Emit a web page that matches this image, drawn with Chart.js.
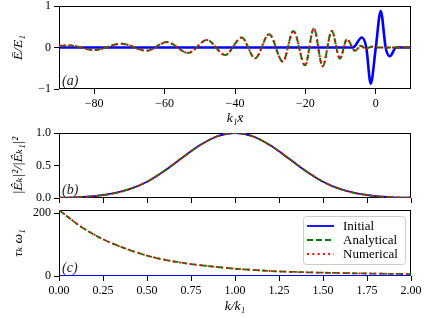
<!DOCTYPE html>
<html><head><meta charset="utf-8">
<script src="https://cdn.jsdelivr.net/npm/chart.js@4.4.0/dist/chart.umd.min.js"></script>
<style>
html,body{margin:0;padding:0;background:#fff;}
#wrap{position:relative;width:425px;height:318px;overflow:hidden;background:#fff;}
canvas{position:absolute;left:0;}
</style></head><body>
<div id="wrap">
<canvas id="ca" width="425" height="127" style="top:0px"></canvas>
<canvas id="cb" width="425" height="78" style="top:127px"></canvas>
<canvas id="cc" width="425" height="113" style="top:205px"></canvas>
</div>
<script>
// ---------- data ----------
// Panel (a): field vs k1*x
const xInitA = [-90, -6.5, -4.0, -2.7, -1.45, 0, 1.4, 2.8, 4.0, 5.8, 10];
const yInitA = [0, 0, 0.24, 0, -0.87, 0, 0.88, 0, -0.21, 0, 0];
const xWaveA = [-90, -87, -80, -72.2, -65.1, -59.4, -53.3, -48.0, -42.8, -38.1, -34.3, -30.3, -26.4, -23.4, -20.1, -17.6, -15.1, -12.5, -10.2, -8.2, -5.9, -4.3, -2.8, -1.2, 0.5, 10];
const yAnalA = [0.04, 0.05, -0.06, 0.09, -0.08, 0.13, -0.13, 0.18, -0.18, 0.24, -0.26, 0.32, -0.34, 0.40, -0.43, 0.46, -0.45, 0.40, -0.27, 0.20, -0.08, 0.04, -0.03, 0.02, 0, 0];
const yNumA  = [0.04, 0.05, -0.06, 0.09, -0.08, 0.13, -0.13, 0.18, -0.18, 0.24, -0.26, 0.32, -0.34, 0.40, -0.43, 0.46, -0.45, 0.40, -0.27, 0.20, -0.08, 0.04, -0.03, 0.02, 0, 0];
// Panel (b): normalized spectrum vs k/k1
const kB = [0, 0.1, 0.2, 0.3, 0.4, 0.5, 0.6, 0.7, 0.8, 0.9, 1.0, 1.1, 1.2, 1.3, 1.4, 1.5, 1.6, 1.7, 1.8, 1.9, 2.0];
const specInit = [0.004, 0.011, 0.028, 0.066, 0.135, 0.25, 0.42, 0.62, 0.81, 0.95, 1.0, 0.95, 0.81, 0.62, 0.42, 0.25, 0.135, 0.066, 0.028, 0.011, 0.004];
const specAnal = [0.004, 0.011, 0.028, 0.066, 0.135, 0.25, 0.42, 0.62, 0.81, 0.95, 1.0, 0.95, 0.81, 0.62, 0.42, 0.25, 0.135, 0.066, 0.028, 0.011, 0.004];
const specNum  = [0.004, 0.011, 0.028, 0.066, 0.135, 0.25, 0.42, 0.62, 0.81, 0.95, 1.0, 0.95, 0.81, 0.62, 0.42, 0.25, 0.135, 0.066, 0.028, 0.011, 0.004];
// Panel (c): tau_k * omega_1 vs k/k1
const kC = [0, 0.125, 0.25, 0.375, 0.5, 0.625, 0.75, 0.875, 1.0, 1.125, 1.25, 1.375, 1.5, 1.625, 1.75, 1.875, 2.0];
const tauInit = [0, 0, 0, 0, 0, 0, 0, 0, 0, 0, 0, 0, 0, 0, 0, 0, 0];
const tauAnal = [210, 157, 117, 88, 65, 49, 38, 30, 23, 18.5, 14.5, 12.3, 10.5, 9.1, 8.0, 6.9, 6.0];
const tauNum  = [210, 157, 117, 88, 65, 49, 38, 30, 23, 18.5, 14.5, 12.3, 10.5, 9.1, 8.0, 6.9, 6.0];
// tick labels
const ticksXA = [-80, -60, -40, -20, 0];
const ticksYA = [-1, 0, 1];
const ticksYB = [0, 0.5, 1.0];
const ticksK  = [0, 0.25, 0.5, 0.75, 1.0, 1.25, 1.5, 1.75, 2.0];
const ticksYC = [0, 200];
const seriesNames = ['Initial', 'Analytical', 'Numerical'];

// ---------- style ----------
const FONT = "'Liberation Serif','DejaVu Serif',serif";
Chart.defaults.font.family = FONT;
Chart.defaults.font.size = 12;
Chart.defaults.color = '#000';
Chart.defaults.animation = false;

const STY = [
  {color:'#0000ff', dash:[], order:3},
  {color:'#008000', dash:[6,3], order:2},
  {color:'#ff0000', dash:[2,3.3], order:1}
];
function pts(xs, ys){ return xs.map((x,i)=>({x:x, y:ys[i]})); }
function ds(i, xs, ys, w){
  return {label:seriesNames[i], data:pts(xs,ys), borderColor:STY[i].color, backgroundColor:STY[i].color,
    borderWidth:w, borderDash:STY[i].dash, pointRadius:0, fill:false,
    cubicInterpolationMode:'monotone', order:STY[i].order};
}
const minus = v => (v < 0 ? '\u2212' + Math.abs(v) : String(v));

function setTicks(list){ return function(scale){ scale.ticks = list.map(v=>({value:v})); }; }
const gridOut = {drawOnChartArea:false, drawTicks:true, tickLength:5, color:'#000', lineWidth:1};

function xAxis(min, max, ticks, fmt, showLabels, title, h, titlePad){
  return {type:'linear', min:min, max:max,
    afterBuildTicks:setTicks(ticks),
    afterFit:function(s){ s.height = h; s.paddingLeft = 0; s.paddingRight = 0; },
    grid:gridOut, border:{display:false},
    ticks:{display:showLabels, padding:3, maxRotation:0, autoSkip:false, callback:fmt, font:{size:12}},
    title:{display:!!title, text:title||'', font:{size:13.5, style:'italic'}, padding:{top:0,bottom:titlePad}}
  };
}
function yAxis(min, max, ticks, fmt, title){
  return {type:'linear', min:min, max:max,
    afterBuildTicks:setTicks(ticks),
    afterFit:function(s){ s.width = 59; s.paddingTop = 0; s.paddingBottom = 0; },
    grid:gridOut, border:{display:false},
    ticks:{padding:3, autoSkip:false, callback:fmt, font:{size:12}},
    title:{display:true, text:title, font:{size:13.5, style:'italic'}, padding:{top:10,bottom:0}}
  };
}

const framePlugin = {
  id:'frame',
  beforeDatasetsDraw(chart){
    const a = chart.chartArea, ctx = chart.ctx;
    ctx.save();
    ctx.strokeStyle = '#000'; ctx.lineWidth = 1;
    ctx.strokeRect(Math.round(a.left)+0.5, Math.round(a.top)+0.5, Math.round(a.right-a.left)-1, Math.round(a.bottom-a.top)-1);
    ctx.restore();
  },
  afterDraw(chart, args, o){
    const a = chart.chartArea, ctx = chart.ctx;
    ctx.save();
    ctx.fillStyle = '#222';
    ctx.font = "italic 14px " + FONT;
    ctx.textBaseline = 'alphabetic'; ctx.textAlign = 'left';
    ctx.fillText(o.label, a.left + 3, a.bottom - 4);
    if (o.legend) {
      const w = 102, h = 48, x0 = a.right - 6 - w, y0 = a.top + 6;
      ctx.beginPath();
      ctx.roundRect(x0 + 0.5, y0 + 0.5, w, h, 3);
      ctx.fillStyle = 'rgba(255,255,255,0.85)'; ctx.fill();
      ctx.strokeStyle = '#cccccc'; ctx.lineWidth = 1; ctx.stroke();
      const dsets = chart.data.datasets;
      ctx.font = "13px " + FONT;
      ctx.textBaseline = 'middle';
      for (let i = 0; i < dsets.length; i++) {
        const yy = y0 + 10 + i * 14;
        ctx.beginPath();
        ctx.setLineDash(dsets[i].borderDash);
        ctx.strokeStyle = dsets[i].borderColor; ctx.lineWidth = dsets[i].borderWidth;
        ctx.moveTo(x0 + 4, yy); ctx.lineTo(x0 + 31, yy); ctx.stroke();
        ctx.setLineDash([]);
        ctx.fillStyle = '#000';
        ctx.fillText(dsets[i].label, x0 + 40, yy + 1);
      }
    }
    ctx.restore();
  }
};

const common = (padTop) => ({
  responsive:false, animation:false, devicePixelRatio:1,
  layout:{padding:{left:0, right:14, top:padTop, bottom:0}},
  plugins:{legend:{display:false}, tooltip:{enabled:false}}
});

// ---------- panel (a) ----------
const optA = common(6);
optA.plugins.frame = {label:'(a)', legend:false};
optA.scales = {
  x: xAxis(-90, 10, ticksXA, v=>minus(v), true, 'k\u2081x\u0304', 38, 0),
  y: yAxis(-1, 1, ticksYA, v=>minus(v), '\u0112/E\u2081')
};
new Chart(document.getElementById('ca'), {
  type:'line',
  data:{datasets:[ds(0, xInitA, yInitA, 2.6), ds(1, xWaveA, yAnalA, 2.0), ds(2, xWaveA, yNumA, 2.0)]},
  options:optA, plugins:[framePlugin]
});

// ---------- panel (b) ----------
const optB = common(6);
optB.plugins.frame = {label:'(b)', legend:false};
optB.scales = {
  x: xAxis(0, 2, ticksK, v=>v.toFixed(2), false, null, 7, 0),
  y: yAxis(0, 1.0, ticksYB, v=>v.toFixed(1), '|\u00CA\u2096|\u00B2/|\u00CA\u2096\u2081|\u00B2')
};
new Chart(document.getElementById('cb'), {
  type:'line',
  data:{datasets:[ds(0, kB, specInit, 1.8), ds(1, kB, specAnal, 1.8), ds(2, kB, specNum, 1.8)]},
  options:optB, plugins:[framePlugin]
});

// ---------- panel (c) ----------
const optC = common(5);
optC.plugins.frame = {label:'(c)', legend:true};
optC.scales = {
  x: xAxis(0, 2, ticksK, v=>v.toFixed(2), true, 'k/k\u2081', 42, 3),
  y: yAxis(0, 210, ticksYC, v=>String(v), '\u03C4\u2096 \u03C9\u2081')
};
new Chart(document.getElementById('cc'), {
  type:'line',
  data:{datasets:[ds(0, kC, tauInit, 1.8), ds(1, kC, tauAnal, 1.8), ds(2, kC, tauNum, 1.8)]},
  options:optC, plugins:[framePlugin]
});
</script>
</body></html>
